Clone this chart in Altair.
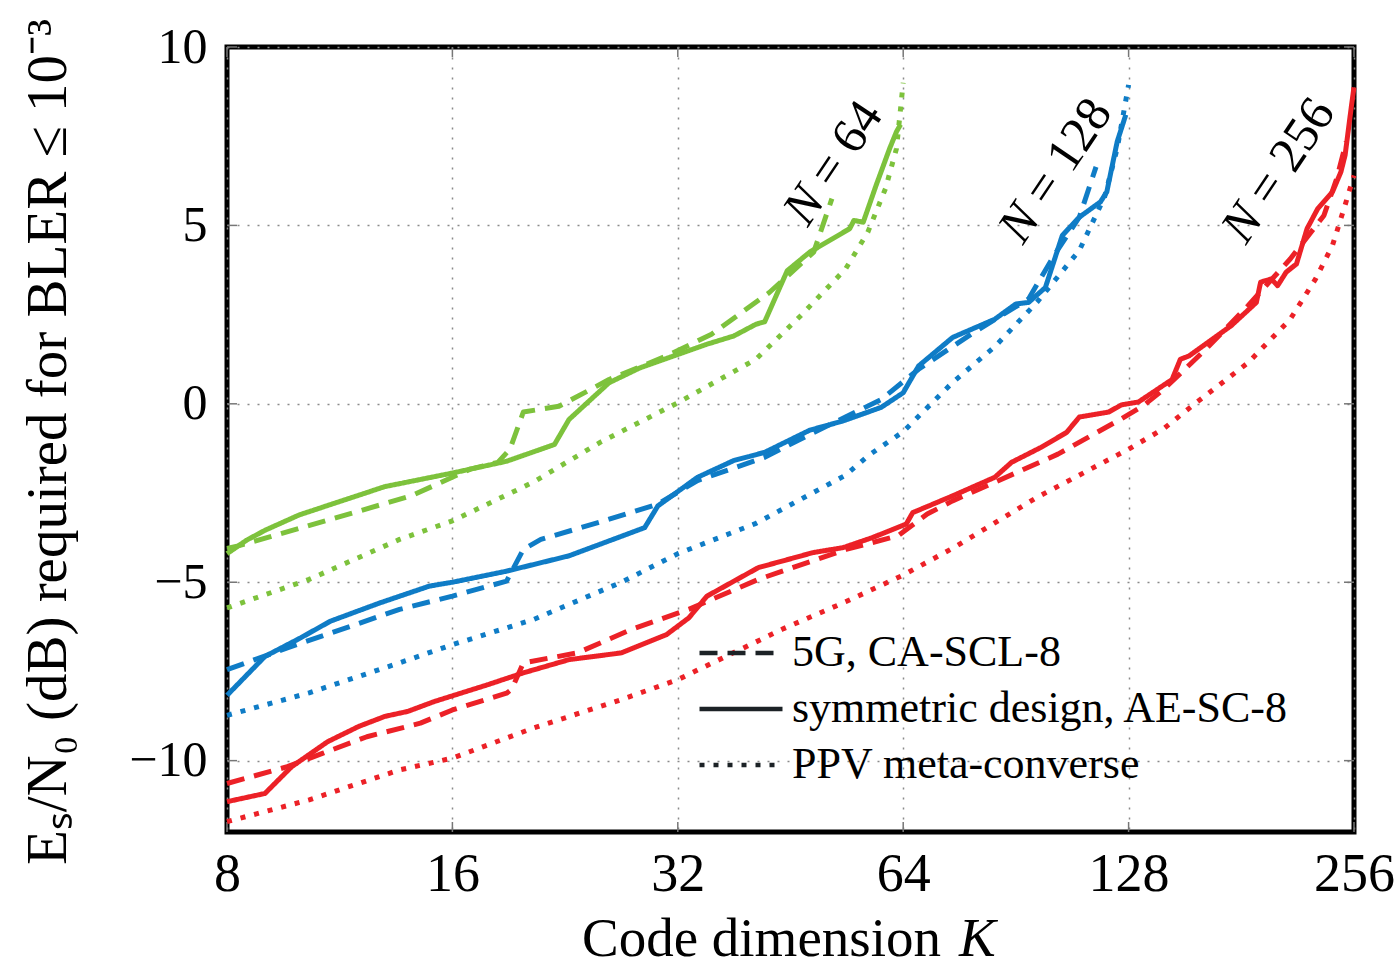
import altair as alt
import pandas as pd

# ---------------- data ----------------
g_ae_K = [8, 8.5, 9.0, 10.0, 13.0, 16.0, 18.9, 21.9, 22.9, 25.9, 28.5, 35.0, 38.0, 40.7, 41.8, 44.8, 48.0, 54.3, 55.0, 56.6, 58.9, 61.4, 62.7, 63.5]
g_ae_y = [-4.20, -3.82, -3.54, -3.11, -2.32, -1.94, -1.61, -1.14, -0.44, 0.59, 1.01, 1.67, 1.90, 2.23, 2.30, 3.73, 4.25, 4.91, 5.14, 5.09, 6.13, 7.16, 7.63, 7.83]

g_5g_K = [8, 8.28, 11.2, 14.1, 16.9, 18.4, 19.1, 19.9, 22.2, 25.9, 30.9, 35.5, 42.4, 48.6, 51.4]
g_5g_y = [-4.05, -3.98, -3.19, -2.58, -1.83, -1.64, -1.27, -0.23, -0.07, 0.68, 1.34, 1.95, 3.12, 4.25, 5.75]

g_ppv_K = [8, 10.3, 13.6, 16, 20.5, 25.2, 32, 40.7, 46.7, 53.6, 57.4, 60.6, 62.7, 64]
g_ppv_y = [-5.72, -4.92, -3.80, -3.28, -2.20, -1.08, 0.03, 1.25, 2.47, 3.78, 4.81, 6.03, 7.16, 9.0]

b_ae_K = [8, 8.99, 10.03, 11.0, 12.8, 14.9, 16, 18.9, 22.9, 28.9, 30.1, 34.0, 38.0, 41.8, 48.0, 53.2, 59.8, 64, 67.1, 74.5, 84.8, 90.5, 94.1, 99.1, 104.4, 110, 117.4, 119.7, 123.6, 126.9]
b_ae_y = [-8.17, -7.08, -6.56, -6.09, -5.58, -5.11, -5.0, -4.69, -4.26, -3.47, -2.86, -2.06, -1.59, -1.36, -0.74, -0.48, -0.10, 0.31, 1.06, 1.86, 2.37, 2.80, 2.84, 3.26, 4.72, 5.23, 5.66, 5.94, 7.35, 8.10]

b_5g_K = [8, 9.63, 11.35, 13.6, 16, 18.9, 19.9, 21.0, 25.5, 30.1, 34.0, 41.8, 47.9, 59.8, 67.1, 79.5, 94.1, 101.8, 110, 115.8]
b_5g_y = [-7.45, -6.84, -6.33, -5.76, -5.39, -4.97, -4.08, -3.80, -3.28, -2.81, -2.15, -1.50, -0.87, 0.12, 0.97, 2.0, 2.94, 4.16, 5.23, 6.64]

b_ppv_K = [8, 10.3, 13.6, 16, 20.5, 26.9, 32, 40.7, 53.6, 57.5, 64, 74.5, 84.8, 96.6, 110, 118.9, 123.6, 128]
b_ppv_y = [-8.73, -8.10, -7.26, -6.75, -6.05, -5.00, -4.20, -3.35, -2.00, -1.45, -0.78, 0.60, 1.60, 2.85, 4.30, 5.80, 7.16, 8.94]

r_ae_K = [8, 8.99, 9.76, 10.9, 12.0, 13.0, 13.95, 15.15, 17.85, 19.9, 22.9, 26.9, 30.9, 33.1, 35.0, 41.0, 48.5, 53.2, 58.2, 64.6, 65.9, 74.5, 84.8, 89.3, 97.8, 105.8, 110, 120.4, 125.2, 131.9, 146.3, 150.1, 154.1, 175.5, 189.6, 192.1, 198.5, 202.4, 207.8, 214.5, 221.6, 229.0, 239.6, 245.9, 249.1, 254.1, 256]
r_ae_y = [-11.15, -10.92, -10.17, -9.47, -9.04, -8.76, -8.62, -8.34, -7.87, -7.54, -7.17, -6.98, -6.47, -6.0, -5.39, -4.59, -4.17, -4.03, -3.75, -3.37, -3.05, -2.58, -2.06, -1.64, -1.22, -0.80, -0.37, -0.23, -0.03, 0.05, 0.68, 1.25, 1.34, 2.19, 2.84, 3.41, 3.50, 3.31, 3.69, 3.92, 4.91, 5.47, 5.94, 6.50, 6.97, 8.38, 8.87]

r_5g_K = [8, 9.63, 10.75, 12.3, 14.5, 16, 18.9, 19.2, 19.9, 23.5, 27.7, 33.1, 41.0, 53.7, 63, 68.9, 74.5, 84.8, 103, 125.2, 134, 142.5, 162.3, 184.8, 210.4, 233.4, 242.7, 250]
r_5g_y = [-10.64, -10.17, -9.79, -9.33, -8.95, -8.58, -8.11, -8.0, -7.26, -6.98, -6.33, -5.76, -4.92, -4.08, -3.70, -3.09, -2.72, -2.20, -1.41, -0.42, -0.05, 0.40, 1.53, 2.75, 4.06, 5.28, 6.31, 7.35]

r_ppv_K = [8, 10.3, 13.6, 16, 20.5, 26.9, 32, 44.3, 53.6, 64, 74.5, 96.6, 128, 142.5, 158, 184.8, 210.4, 227.5, 239.6, 249, 256]
r_ppv_y = [-11.71, -11.10, -10.26, -9.93, -9.09, -8.29, -7.73, -6.30, -5.55, -4.80, -4.05, -2.62, -1.27, -0.70, 0.05, 1.15, 2.37, 3.50, 4.44, 5.56, 6.40]

methods = ["5G, CA-SCL-8", "symmetric design, AE-SC-8", "PPV meta-converse"]
n_values = ["64", "128", "256"]
colors = ["#7dc23c", "#0f7cc6", "#ec2127"]

series = [
    ("64", methods[1], g_ae_K, g_ae_y), ("64", methods[0], g_5g_K, g_5g_y), ("64", methods[2], g_ppv_K, g_ppv_y),
    ("128", methods[1], b_ae_K, b_ae_y), ("128", methods[0], b_5g_K, b_5g_y), ("128", methods[2], b_ppv_K, b_ppv_y),
    ("256", methods[1], r_ae_K, r_ae_y), ("256", methods[0], r_5g_K, r_5g_y), ("256", methods[2], r_ppv_K, r_ppv_y),
]
rows = []
for n, m, ks, ys in series:
    for i, (k, v) in enumerate(zip(ks, ys)):
        rows.append({"N": n, "method": m, "K": k, "val": v, "order": i})
df = pd.DataFrame(rows)

# curve labels "N = ..." (anchor sits in the gap between "N" and "= ...")
label_num = ["= 64", "= 128", "= 256"]
label_K = [48.9, 94.8, 188.2]
label_y = [6.01, 5.51, 5.51]
labels_df = pd.DataFrame({"num": label_num, "K": label_K, "val": label_y, "N": ["N", "N", "N"]})

x_ticks = [8, 16, 32, 64, 128, 256]
y_ticks = [-10, -5, 0, 5, 10]

FONT = "Liberation Serif"
W, H = 1127, 785

x_scale = alt.Scale(type="log", base=2, domain=[8, 256], nice=False)
y_scale = alt.Scale(domain=[-12, 10], nice=False, zero=False)

x_axis = alt.Axis(values=x_ticks, format="d", title=None, grid=True,
                  ticks=False, tickSize=0, labelPadding=58, labelBaseline="alphabetic",
                  labelFontSize=54, labelFlush=False, domain=False)
y_axis = alt.Axis(values=y_ticks, title="Eₛ/N₀ (dB) required for BLER ≤ 10⁻³", grid=True,
                  ticks=False, tickSize=0, labelPadding=20, labelFontSize=50,
                  titleFontSize=57, titleX=-162, titleY=H / 2 + 2, titleAngle=-90,
                  titleBaseline="alphabetic", titleAlign="center", domain=False, labelFlush=False)

lines = alt.Chart(df).mark_line(strokeWidth=5, strokeCap="butt", strokeJoin="round").encode(
    x=alt.X("K:Q", scale=x_scale, axis=x_axis),
    y=alt.Y("val:Q", scale=y_scale, axis=y_axis),
    color=alt.Color("N:N", scale=alt.Scale(domain=n_values, range=colors), legend=None),
    strokeDash=alt.StrokeDash("method:N",
        scale=alt.Scale(domain=methods, range=[[18, 10], [1, 0], [5, 9]]),
        legend=alt.Legend(orient="none", legendX=491, legendY=583, title=None,
                          symbolType="M-2,0H2", symbolSize=1722, symbolStrokeWidth=4.5,
                          symbolStrokeColor="#1c2226", symbolFillColor="transparent",
                          labelFont=FONT, labelFontSize=44, labelColor="black",
                          labelOffset=28, rowPadding=11, padding=0, labelLimit=900)),
    detail="N:N",
    order="order:Q",
)

ANG = 304
lab_n = alt.Chart(labels_df).mark_text(angle=ANG, font=FONT, fontSize=50, fontStyle="italic",
                                       align="right", baseline="middle", color="black", dx=-3).encode(
    x=alt.X("K:Q", scale=x_scale), y=alt.Y("val:Q", scale=y_scale), text="N:N")
lab_num = alt.Chart(labels_df).mark_text(angle=ANG, font=FONT, fontSize=50,
                                         align="left", baseline="middle", color="black", dx=9).encode(
    x=alt.X("K:Q", scale=x_scale), y=alt.Y("val:Q", scale=y_scale), text="num:N")

# x-axis title, with an italic K
xt1 = alt.Chart(pd.DataFrame({"t": ["Code dimension"]})).mark_text(
    font=FONT, fontSize=55, align="right", baseline="alphabetic", color="black").encode(
    x=alt.value(714), y=alt.value(H + 124), text="t:N")
xt2 = alt.Chart(pd.DataFrame({"t": ["K"]})).mark_text(
    font=FONT, fontSize=55, fontStyle="italic", align="left", baseline="alphabetic", color="black").encode(
    x=alt.value(732), y=alt.value(H + 124), text="t:N")

xt_df = pd.DataFrame({"K": x_ticks})
yt_df = pd.DataFrame({"val": y_ticks})
tick_col = "#777777"
xt_bottom = alt.Chart(xt_df).mark_rule(color=tick_col, strokeWidth=1.5).encode(
    x=alt.X("K:Q", scale=x_scale), y=alt.value(H), y2=alt.value(H - 10))
xt_top = alt.Chart(xt_df).mark_rule(color=tick_col, strokeWidth=1.5).encode(
    x=alt.X("K:Q", scale=x_scale), y=alt.value(0), y2=alt.value(10))
yt_left = alt.Chart(yt_df).mark_rule(color=tick_col, strokeWidth=1.5).encode(
    y=alt.Y("val:Q", scale=y_scale), x=alt.value(0), x2=alt.value(10))
yt_right = alt.Chart(yt_df).mark_rule(color=tick_col, strokeWidth=1.5).encode(
    y=alt.Y("val:Q", scale=y_scale), x=alt.value(W), x2=alt.value(W - 10))

chart = alt.layer(xt_bottom, xt_top, yt_left, yt_right, lines, lab_n, lab_num, xt1, xt2).properties(
    width=W, height=H,
    autosize=alt.AutoSizeParams(type="none"),
    padding={"left": 227, "top": 47, "right": 44, "bottom": 136},
    background="white",
).configure_view(
    stroke="black", strokeWidth=5
).configure_axis(
    labelFont=FONT, titleFont=FONT, labelColor="black", titleColor="black",
    titleFontWeight="normal", gridColor="#8a8a8a", gridDash=[2, 8], gridWidth=1.5,
)

chart.save("out.html", embed_options={"renderer": "svg", "actions": False})
